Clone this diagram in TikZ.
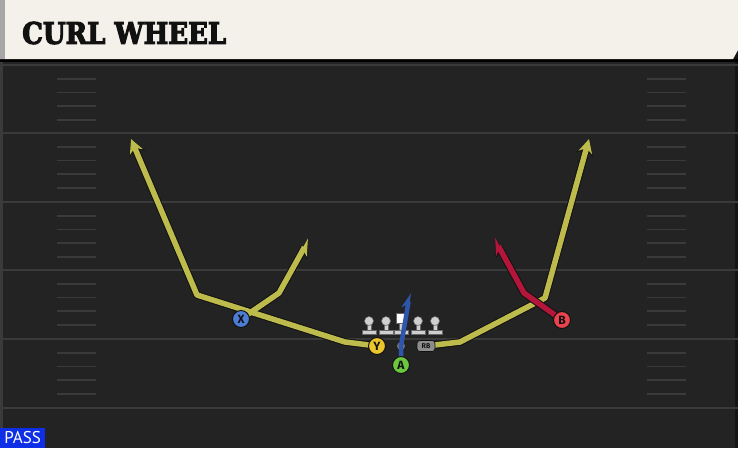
\documentclass[tikz,border=0pt]{standalone}
\usepackage{fontspec}
\setsansfont{Fira Sans}
\newfontfamily\titlefont[FakeBold=4]{DejaVu Serif}
\newfontfamily\passfont{PT Sans}
\usetikzlibrary{arrows.meta}
\definecolor{fieldbg}{HTML}{232323}
\definecolor{yardln}{HTML}{3A3A3A}
\definecolor{hdrbg}{HTML}{F4F1EB}
\definecolor{routey}{HTML}{BDBB4C}
\definecolor{router}{HTML}{B3163A}
\definecolor{routeb}{HTML}{2E56AC}
\definecolor{outl}{HTML}{111111}
\definecolor{plX}{HTML}{4C7DD4}
\definecolor{plY}{HTML}{EBC52C}
\definecolor{plA}{HTML}{6CC63E}
\definecolor{plB}{HTML}{E8434E}
\definecolor{olgray}{HTML}{CFCFCF}
\definecolor{passblue}{HTML}{0F2FE6}
\tikzset{
  x=1pt, y=-1pt,
  player/.style={circle, draw=outl, line width=1pt, minimum size=17pt, inner sep=0pt,
    font=\sffamily\bfseries\fontsize{12}{12}\selectfont, text=outl},
  hashm/.style={yardln, line width=1.6pt},
  yardl/.style={yardln, line width=1.4pt},
  rbase/.style={line width=7.5pt, draw=outl, line join=round},
  rtop/.style={line width=5.5pt, line join=round},
  olman/.pic={
    \fill[olgray, draw=black!60, line width=0.5pt] (-2,-2) rectangle (2,5);
    \fill[olgray, draw=black!60, line width=0.5pt] (-7,5) rectangle (7,9);
    \fill[olgray, draw=black!60, line width=0.5pt] (0,-4) circle (4.5);
  }
}
\begin{document}
\begin{tikzpicture}
\useasboundingbox (0,0) rectangle (738,448);
% field
\fill[fieldbg] (0,0) rectangle (738,448);
\fill[yardln] (0,0) rectangle (3,448);
\fill[black!40!fieldbg] (735,0) rectangle (738,448);
% yard lines
\foreach \yy in {65,133,202,270,339,408} {
  \draw[yardl] (0,\yy) -- (738,\yy);
}
% hash marks
\foreach \yy in {65,133,202,270,339} {
  \foreach \k in {1,2,3,4} {
    \draw[hashm] (57,\yy+13.7*\k) -- (96,\yy+13.7*\k);
    \draw[hashm] (647,\yy+13.7*\k) -- (686,\yy+13.7*\k);
  }
}
% header
\fill[black] (0,59) rectangle (738,62);
\fill[hdrbg] (0,0) -- (738,0) -- (738,50) -- (733,59) -- (0,59) -- cycle;
\fill[black!35] (0,0) rectangle (5,59);
\node[anchor=west, inner sep=0pt, text=outl] (title) at (22,33)
  {\resizebox{204pt}{22pt}{\titlefont\bfseries CURL WHEEL}};
% offensive line
\pic at (369,325) {olman};
\pic at (386,325) {olman};
\pic at (418,325) {olman};
\pic at (435,325) {olman};
\fill[olgray, draw=black!60, line width=0.5pt] (399,322) rectangle (403,330);
\fill[olgray, draw=black!60, line width=0.5pt] (394,330) rectangle (408,334);
\node[fill=white, draw=black!60, line width=0.5pt, minimum size=10pt, inner sep=0pt] (ctr) at (401,318) {};
% QB dot
\node[circle, fill=black!55, minimum size=8pt, inner sep=0pt] (qb) at (401,346) {};
% route waypoints
\coordinate (y1) at (345,342);
\coordinate (y2) at (197,295);
\coordinate (y3) at (131,139);
\coordinate (x1) at (279,293);
\coordinate (x2) at (309,239);
\coordinate (r1) at (460,342);
\coordinate (r2) at (545,298);
\coordinate (r3) at (589,139);
\coordinate (b1) at (524,293);
\coordinate (b2) at (494,238);
\coordinate (a1) at (410,293);
% players (positions)
\coordinate (Xp) at (241,319);
\coordinate (Yp) at (377,346);
\coordinate (Ap) at (401,365);
\coordinate (Bp) at (562,320);
\coordinate (RBp) at (426,346);
% routes: outline then colour
\draw[rbase, -{Stealth[length=16pt,width=17pt]}] (Yp) -- (y1) -- (y2) -- (y3);
\draw[rbase, -{Stealth[length=16pt,width=17pt]}] (RBp) -- (r1) -- (r2) -- (r3);
\draw[rbase, -{Stealth[harpoon,swap,length=16pt,width=16pt]}] (Xp) -- (x1) -- (x2);
\draw[rtop, routey, -{Stealth[length=14pt,width=14pt]}] (Yp) -- (y1) -- (y2) -- (y3);
\draw[rtop, routey, -{Stealth[length=14pt,width=14pt]}] (RBp) -- (r1) -- (r2) -- (r3);
\draw[rtop, routey, -{Stealth[harpoon,swap,length=14pt,width=13pt]}] (Xp) -- (x1) -- (x2);
\draw[rbase, -{Stealth[harpoon,length=16pt,width=16pt]}] (Bp) -- (b1) -- (b2);
\draw[rtop, router, -{Stealth[harpoon,length=14pt,width=13pt]}] (Bp) -- (b1) -- (b2);
\draw[line width=4.5pt, routeb, line join=round, -{Stealth[harpoon,length=13pt,width=12pt]}] (Ap) -- (qb.center) -- (a1);
% player nodes
\node[player, fill=plX] (X) at (Xp) {X};
\node[player, fill=plY] (Y) at (Yp) {Y};
\node[player, fill=plA] (A) at (Ap) {A};
\node[player, fill=plB] (B) at (Bp) {B};
\node[rounded corners=3pt, fill=black!45, draw=outl, line width=0.6pt, minimum width=18pt, minimum height=11pt, inner sep=0pt,
  font=\sffamily\bfseries\fontsize{7}{7}\selectfont, text=outl] (RB) at (RBp) {RB};
% pass tag
\node[fill=passblue, anchor=south west, minimum width=45pt, minimum height=20pt, inner sep=0pt,
  text=white, font=\passfont\fontsize{17}{17}\selectfont] (pass) at (0,448) {PASS};
\end{tikzpicture}
\end{document}
